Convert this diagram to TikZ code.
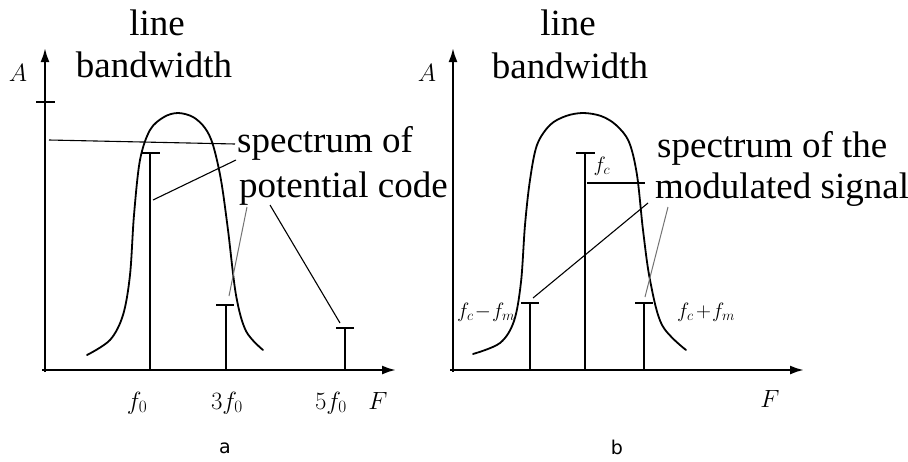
\documentclass[tikz,border=0pt]{standalone}
\usepackage{fontspec}
\setmainfont{Liberation Serif}
\newfontfamily\capfont{DejaVu Sans}
\usetikzlibrary{arrows.meta}
\begin{document}
\begin{tikzpicture}[x=1pt,y=-1pt,
  axis/.style={line width=2.2pt,-{Latex[length=14pt,width=9pt]}},
  curve/.style={line width=1.8pt,line cap=round},
  bar/.style={line width=2pt},
  leader/.style={line width=1.1pt},
  faint/.style={line width=1pt,black!55},
  big/.style={font=\fontsize{37}{44}\selectfont,inner sep=0pt,anchor=base west},
  bigc/.style={font=\fontsize{37}{44}\selectfont,inner sep=0pt,anchor=base},
  lbl/.style={font=\fontsize{24}{28}\selectfont,inner sep=0pt},
  slbl/.style={font=\fontsize{20}{24}\selectfont,inner sep=0pt},
  sub/.style={font=\capfont\fontsize{19}{21}\selectfont,inner sep=0pt}]
\useasboundingbox[fill=white] (0,0) rectangle (908,461);

% ---------------- panel a ----------------
\coordinate (oa) at (45,370);
\coordinate (ya) at (45,48);
\coordinate (xa) at (396,370);
\draw[axis] (45,372) -- (ya);
\draw[axis] (42,370) -- (xa);
\draw[line width=1.8pt] (36,102) -- (55,102);
\node[lbl] (Aa) at (18,73) {$A$};

\draw[curve] plot[smooth,tension=0.55] coordinates {(87,355) (110,340) (123,315) (130,275) (134,215) (140,160) (150,130) (164,117) (178,113) (193,117) (205,128) (213,145) (221,180) (228,230) (236,295) (246,331) (263,350)};

% bars
\coordinate (b1) at (150,153);
\coordinate (b3) at (226,305);
\coordinate (b5) at (345,328);
\draw[bar] (150,370) -- (b1); \draw[bar] (141,153) -- (160,153);
\draw[bar] (226,370) -- (b3); \draw[bar] (216,305) -- (234,305);
\draw[bar] (345,370) -- (b5); \draw[bar] (336,328) -- (354,328);

\node[lbl,anchor=base] (fa1) at (137,409) {$f_0$};
\node[lbl,anchor=base] (fa3) at (227,409) {$3f_0$};
\node[lbl,anchor=base] (fa5) at (331,409) {$5f_0$};
\node[lbl,anchor=base] (Fa) at (378,409) {$F$};

\node[bigc] (la1) at (157,35) {line};
\node[bigc] (la2) at (154,77) {bandwidth};
\node[big] (sa1) at (237,152) {spectrum of};
\node[big] (sa2) at (239,197) {potential code};

% leaders a
\coordinate (ha0) at (49,140);
\coordinate (ha1) at (235,144);
\draw[leader] (ha0) -- (ha1);
\coordinate (la0) at (153,200);
\coordinate (la1e) at (236,160);
\draw[leader] (la0) -- (la1e);
\coordinate (lb0) at (247,207);
\coordinate (lb1) at (229,296);
\draw[faint] (lb0) -- (lb1);
\coordinate (lc0) at (270,205);
\coordinate (lc1) at (340,323);
\draw[leader] (lc0) -- (lc1);

\node[sub] (capa) at (225,448) {a};

% ---------------- panel b ----------------
\coordinate (ob) at (453,370);
\coordinate (yb) at (453,48);
\coordinate (xb) at (804,370);
\draw[axis] (453,372) -- (yb);
\draw[axis] (450,370) -- (xb);
\node[lbl] (Ab) at (427,73) {$A$};

\draw[curve] plot[smooth,tension=0.55] coordinates {(473,354) (500,343) (514,321) (521,282) (525,225) (530,180) (537,145) (550,125) (566,116) (583,113) (601,116) (616,125) (629,142) (637,175) (643,230) (650,280) (662,325) (686,350)};

\coordinate (bm) at (530,303);
\coordinate (bc) at (585,153);
\coordinate (bp) at (644,303);
\draw[bar] (530,370) -- (bm); \draw[bar] (521,303) -- (539,303);
\draw[bar] (585,370) -- (bc); \draw[bar] (576,153) -- (595,153);
\draw[bar] (644,370) -- (bp); \draw[bar] (635,303) -- (653,303);

\node[slbl] (fc) at (602,166) {$f_c$};
\node[slbl,anchor=west] (fcm) at (457,312) {$f_c\mkern-3mu-\mkern-3mu f_m$};
\node[slbl,anchor=west] (fcp) at (677,312) {$f_c\mkern-2mu+\mkern-3mu f_m$};
\node[lbl,anchor=base] (Fb) at (770,407) {$F$};

\node[bigc] (lb1t) at (568,35) {line};
\node[bigc] (lb2t) at (570,78) {bandwidth};
\node[big] (sb1) at (657,157) {spectrum of the};
\node[big] (sb2) at (655,198) {modulated signal};

% leaders b
\coordinate (hb0) at (587,183);
\coordinate (hb1) at (645,183);
\draw[leader] (hb0) -- (hb1);
\coordinate (mb0) at (533,298);
\coordinate (mb1) at (648,203);
\draw[leader] (mb0) -- (mb1);
\coordinate (pb0) at (668,207);
\coordinate (pb1) at (645,297);
\draw[faint] (pb0) -- (pb1);

\node[sub] (capb) at (617,447) {b};
\end{tikzpicture}
\end{document}
